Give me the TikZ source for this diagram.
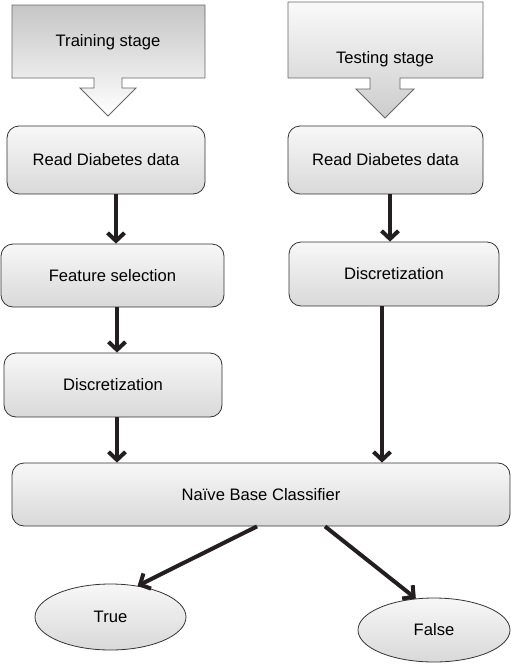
\documentclass[tikz,border=0pt]{standalone}
\usepackage{fontspec}
\setmainfont{Liberation Sans}
\usetikzlibrary{arrows.meta,shapes.geometric}

\definecolor{inkline}{HTML}{231F20}

\tikzset{
    procbox/.style={draw=black!80, line width=0.8pt, rounded corners=12pt,
        top color=gray!6, bottom color=gray!30, inner sep=0pt},
    endbox/.style={ellipse, draw=black!80, line width=0.8pt,
        top color=gray!6, bottom color=gray!30, inner sep=0pt},
    flow/.style={draw=inkline, line width=4pt,
        -{Straight Barb[length=8pt,width=17pt]}},
}

\begin{document}
\begin{tikzpicture}[x=1pt, y=-1pt, font=\fontsize{16.6}{20}\selectfont]
    \useasboundingbox (0,0) rectangle (511,664);

    % Stage arrows
    \draw[black!60, line width=0.8pt, top color=gray!45, bottom color=white]
        (12,5) -- (205,5) -- (205,78) -- (122,78) -- (122,88) -- (136,88)
        -- (108,116) -- (80,88) -- (94,88) -- (94,78) -- (12,78) -- cycle;
    \draw[black!60, line width=0.8pt, top color=gray!4, bottom color=gray!40]
        (288,2) -- (483,2) -- (483,78) -- (400,78) -- (400,89) -- (414,89)
        -- (385,118) -- (356,89) -- (370,89) -- (370,78) -- (288,78) -- cycle;
    \node (train) at (108,42) {Training stage};
    \node (test) at (385,59) {Testing stage};

    % Process boxes
    \node[procbox, minimum width=198pt, minimum height=68pt] (readL) at (106,160) {Read Diabetes data};
    \node[procbox, minimum width=195pt, minimum height=68pt] (readR) at (385.5,160) {Read Diabetes data};
    \node[procbox, minimum width=223pt, minimum height=63pt] (feat) at (112.5,275.5) {Feature selection};
    \node[procbox, minimum width=218pt, minimum height=64pt] (discL) at (113,385) {Discretization};
    \node[procbox, minimum width=210pt, minimum height=64pt] (discR) at (394,274) {Discretization};
    \node[procbox, minimum width=498pt, minimum height=63pt] (nbc) at (261,494.5) {Naïve Base Classifier};

    % Outcomes
    \node[endbox, minimum width=151pt, minimum height=66pt] (true) at (110.5,617) {True};
    \node[endbox, minimum width=152pt, minimum height=64pt] (false) at (434,630) {False};

    % Vertical flow arrows
    \foreach \a/\b/\s in {readL/feat/10pt, feat/discL/4.5pt, discL/nbc/4pt,
                          readR/discR/4.5pt, discR/nbc/-12pt} {
        \draw[flow] ([xshift=\s]\a.south) -- ([xshift=\s]\a.south |- \b.north);
    }

    % Classifier outputs
    \draw[flow] ([xshift=-4pt]nbc.south) -- (true.49);
    \draw[flow] ([xshift=64pt]nbc.south) -- (false.120);
\end{tikzpicture}
\end{document}
